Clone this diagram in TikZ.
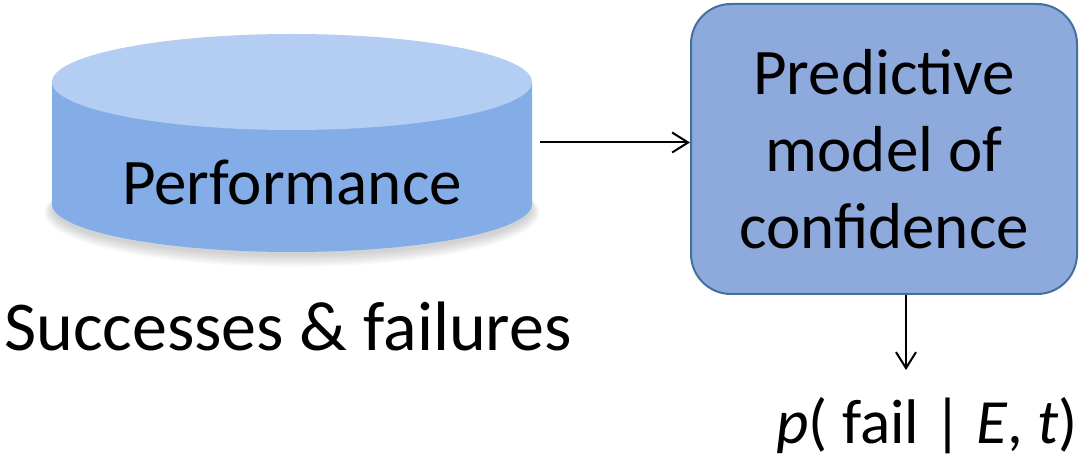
\documentclass[tikz,border=0pt]{standalone}
\usepackage{fontspec}
\setmainfont{Carlito}
\usetikzlibrary{arrows.meta,calc}
\definecolor{cyltop}{RGB}{180,205,242}
\definecolor{cylside}{RGB}{132,173,232}
\definecolor{boxfill}{RGB}{142,170,220}
\definecolor{boxline}{RGB}{65,113,156}
\tikzset{
  conn/.style={line width=2pt, -{Straight Barb[length=16pt,width=20pt,line width=2pt]}},
  bigtext/.style={font=\fontsize{65}{77}\selectfont, inner sep=0pt},
}
\begin{document}
\begin{tikzpicture}[x=1pt,y=1pt]
\useasboundingbox (0,0) rectangle (1081,458);
% cylinder shadow
\foreach \k in {1,...,8}{
  \fill[black, opacity=0.025] (292,{250-\k*0.6}) ellipse [x radius={238+\k*1.2}, y radius={46+\k*1.0}];
}
% cylinder body
\fill[cylside] (52,376) -- (52,254) arc[start angle=180, end angle=360, x radius=240, y radius=48] -- (532,376) -- cycle;
\fill[cyltop] (292,376) ellipse [x radius=240, y radius=48];
\node[inner sep=0pt, minimum width=480pt, minimum height=219pt] (perf) at (292,315.5) {};
\node[bigtext, anchor=base] (perflabel) at (292,253) {Performance};
% box
\node[draw=boxline, line width=2pt, fill=boxfill, rounded corners=40pt,
      minimum width=386pt, minimum height=290pt, inner sep=0pt] (box) at (884,309) {};
\node[bigtext, align=center] (boxlabel) at (884,309) {Predictive\\model of\\confidence};
% caption
\node[font=\fontsize{70}{84}\selectfont, inner sep=0pt, anchor=base west] (succ) at (4,108) {Successes \& failures};
% output
\node[font=\fontsize{63}{75}\selectfont, inner sep=0pt, anchor=base east] (out) at (1078,15) {\textit{p}( fail | \textit{E}, \textit{t})};
\coordinate (a2) at (906,88);
\draw[conn] ([xshift=8pt]perf.east) -- (perf.east -| box.west);
\draw[conn] (box.south -| a2) -- (a2);
\end{tikzpicture}
\end{document}
